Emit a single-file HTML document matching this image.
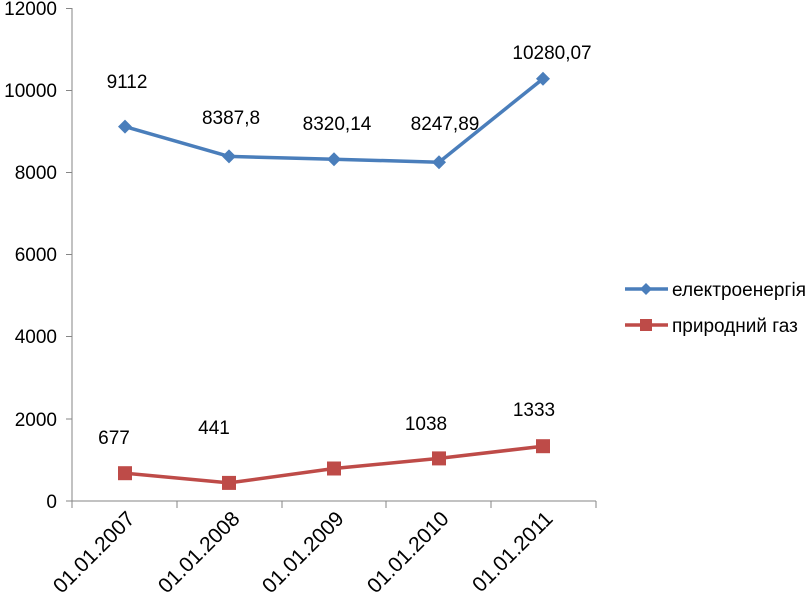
<!DOCTYPE html>
<html><head><meta charset="utf-8"><style>body{margin:0;background:#fff}svg{display:block}text{font-family:"Liberation Sans","DejaVu Sans",sans-serif;fill:#000}</style></head><body>
<svg width="809" height="601" viewBox="0 0 809 601">
<g stroke="#868686" stroke-width="1">
<line x1="72" y1="8" x2="72" y2="501"/>
<line x1="72" y1="501" x2="596" y2="501"/>
<line x1="66" y1="8.5" x2="72" y2="8.5"/><line x1="66" y1="90.5" x2="72" y2="90.5"/><line x1="66" y1="172.5" x2="72" y2="172.5"/><line x1="66" y1="254.5" x2="72" y2="254.5"/><line x1="66" y1="336.5" x2="72" y2="336.5"/><line x1="66" y1="419" x2="72" y2="419"/><line x1="66" y1="501" x2="72" y2="501"/>
<line x1="72" y1="501" x2="72" y2="508"/><line x1="177" y1="501" x2="177" y2="508"/><line x1="282" y1="501" x2="282" y2="508"/><line x1="386" y1="501" x2="386" y2="508"/><line x1="491" y1="501" x2="491" y2="508"/><line x1="596" y1="501" x2="596" y2="508"/>
</g>
<g font-size="19" text-anchor="end">
<text x="57" y="15">12000</text><text x="57" y="97">10000</text><text x="57" y="179">8000</text><text x="57" y="261">6000</text><text x="57" y="343">4000</text><text x="57" y="426">2000</text><text x="57" y="508">0</text>
</g>
<g font-size="21" text-anchor="end">
<text transform="translate(136,520) rotate(-45)">01.01.2007</text>
<text transform="translate(241,520) rotate(-45)">01.01.2008</text>
<text transform="translate(345,520) rotate(-45)">01.01.2009</text>
<text transform="translate(450,520) rotate(-45)">01.01.2010</text>
<text transform="translate(554,520) rotate(-45)">01.01.2011</text>
</g>
<polyline points="125,126.6 229,156.4 334,159.2 439,162.2 543,78.7" fill="none" stroke="#4a7ebb" stroke-width="3.5" stroke-linejoin="round"/>
<g fill="#4a7ebb">
<polygon points="125,119.6 132,126.6 125,133.6 118,126.6"/>
<polygon points="229,149.4 236,156.4 229,163.4 222,156.4"/>
<polygon points="334,152.2 341,159.2 334,166.2 327,159.2"/>
<polygon points="439,155.2 446,162.2 439,169.2 432,162.2"/>
<polygon points="543,71.7 550,78.7 543,85.7 536,78.7"/>
</g>
<polyline points="125,473.2 229,482.9 334,468.5 439,458.4 543,446.2" fill="none" stroke="#be4b48" stroke-width="3.5" stroke-linejoin="round"/>
<g fill="#be4b48">
<rect x="118" y="466.2" width="14" height="14"/>
<rect x="222" y="475.9" width="14" height="14"/>
<rect x="327" y="461.5" width="14" height="14"/>
<rect x="432" y="451.4" width="14" height="14"/>
<rect x="536" y="439.2" width="14" height="14"/>
</g>
<g font-size="19" text-anchor="middle">
<text x="127" y="88">9112</text>
<text x="231" y="124">8387,8</text>
<text x="337" y="130">8320,14</text>
<text x="445" y="130">8247,89</text>
<text x="552" y="59">10280,07</text>
<text x="114" y="444">677</text>
<text x="214" y="434">441</text>
<text x="426" y="430">1038</text>
<text x="534" y="416">1333</text>
</g>
<line x1="625" y1="289" x2="668" y2="289" stroke="#4a7ebb" stroke-width="3.5"/>
<polygon points="646,283 652,289 646,295 640,289" fill="#4a7ebb"/>
<line x1="625" y1="325" x2="668" y2="325" stroke="#be4b48" stroke-width="3.5"/>
<rect x="640" y="319" width="12" height="12" fill="#be4b48"/>
<g font-size="19"><text x="672" y="296" textLength="134">електроенергія</text><text x="672" y="332">природний газ</text></g>
</svg>
</body></html>
